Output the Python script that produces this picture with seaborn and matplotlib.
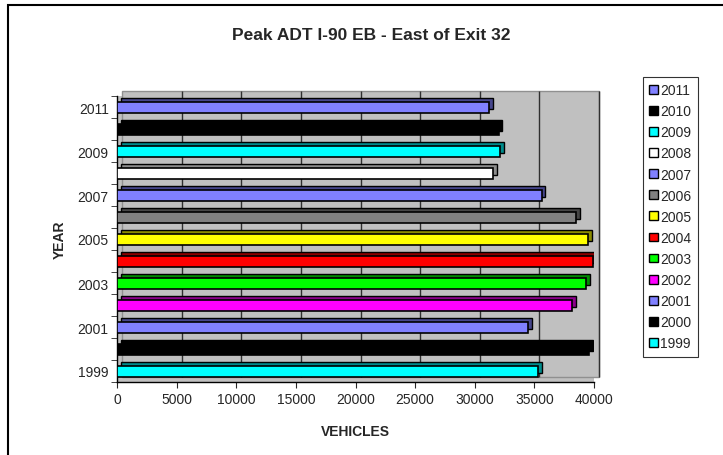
import numpy as np
import pandas as pd
import seaborn as sns
import matplotlib.pyplot as plt
import matplotlib.patheffects as pe
from matplotlib.patches import Patch, Rectangle
from matplotlib.transforms import ScaledTranslation

# data
years = ["1999", "2000", "2001", "2002", "2003", "2004", "2005",
         "2006", "2007", "2008", "2009", "2010", "2011"]
vehicles = [35300, 39600, 34450, 38150, 39330, 39900, 39500,
            38500, 35600, 31500, 32100, 32000, 31200]
colors = ["#00FFFF", "#000000", "#8080FF", "#FF00FF", "#00FF00", "#FF0000", "#FFFF00",
          "#808080", "#8080FF", "#FFFFFF", "#00FFFF", "#000000", "#8080FF"]
xticks = np.arange(0, 40001, 5000)

df = pd.DataFrame({"YEAR": years, "VEHICLES": vehicles})
palette = dict(zip(years, colors))
order = years[::-1]  # 2011 at the top

sns.set_style("white")
plt.rcParams["font.family"] = ["Liberation Sans", "DejaVu Sans"]

fig = plt.figure(figsize=(7.23, 4.56), dpi=100)
ax = fig.add_axes([117 / 723, 1 - 383 / 456, 477 / 723, 286 / 456])

sns.barplot(data=df, y="YEAR", x="VEHICLES", hue="YEAR", order=order,
            hue_order=order, palette=palette, dodge=False, width=0.5,
            orient="h", edgecolor="black", linewidth=1.2, legend=False,
            saturation=1, ax=ax)

# 3D-ish depth on each bar
for bar in ax.patches:
    bar.set_zorder(3)
    bar.set_path_effects([pe.SimplePatchShadow(offset=(2.8, 2.8), rho=0.55, alpha=1,
                                               foreground="black", linewidth=1),
                          pe.Normal()])

# back wall (shifted up/right for the fake 3D look)
ax.set_facecolor("#C0C0C0")
wall_off = ScaledTranslation(5 / 100, 5 / 100, fig.dpi_scale_trans)
ax.add_patch(Rectangle((0, 0), 1, 1, transform=ax.transAxes + wall_off,
                       facecolor="#C0C0C0", edgecolor="#909090", lw=1,
                       zorder=0, clip_on=False))

ax.set_xlim(0, 40000)
ax.set_ylim(12.5, -0.5)
ax.set_xticks(xticks)
ax.tick_params(axis="x", labelsize=10, length=4, direction="out", bottom=True, pad=3)

# grid lines on the back wall
ax.grid(False)
ax.vlines(xticks[1:], -0.5, 12.5, colors="#303030", lw=1, zorder=1,
          transform=ax.transData + wall_off, clip_on=False)

ax.set_yticks(range(len(order)))
ax.set_yticklabels([y if int(y) % 2 == 1 else "" for y in order])
ax.set_yticks(np.arange(-0.5, len(order), 1), minor=True)
ax.tick_params(axis="y", which="major", length=0, labelsize=10, pad=6)
ax.tick_params(axis="y", which="minor", length=4, direction="out", left=True)

for s in ["top", "right"]:
    ax.spines[s].set_visible(False)
for s in ["left", "bottom"]:
    ax.spines[s].set_color("black")
    ax.spines[s].set_linewidth(1)

ax.set_xlabel("VEHICLES", fontsize=10, fontweight="bold", labelpad=13)
ax.set_ylabel("YEAR", fontsize=10, fontweight="bold", labelpad=8)

fig.text(371 / 723, 1 - 36 / 456, "Peak ADT I-90 EB - East of Exit 32",
         ha="center", va="center", fontsize=12.5, fontweight="bold")

handles = [Patch(facecolor=palette[y], edgecolor="black", lw=1) for y in order]
leg = fig.legend(handles, order, loc="upper left",
                 bbox_to_anchor=(643 / 723, 1 - 78 / 456), borderaxespad=0,
                 fontsize=10, handlelength=0.6, handleheight=0.6,
                 handletextpad=0.2, labelspacing=0.51, borderpad=0.45,
                 fancybox=False, frameon=True)
leg.get_frame().set_edgecolor("black")
leg.get_frame().set_linewidth(0.8)

# outer chart border
fig.patches.append(Rectangle((8 / 723, -0.2), 1.2, 1.2 - 6 / 456,
                             transform=fig.transFigure, fill=False,
                             edgecolor="black", lw=1.5, clip_on=False))

fig.savefig("out.png", dpi=100)
